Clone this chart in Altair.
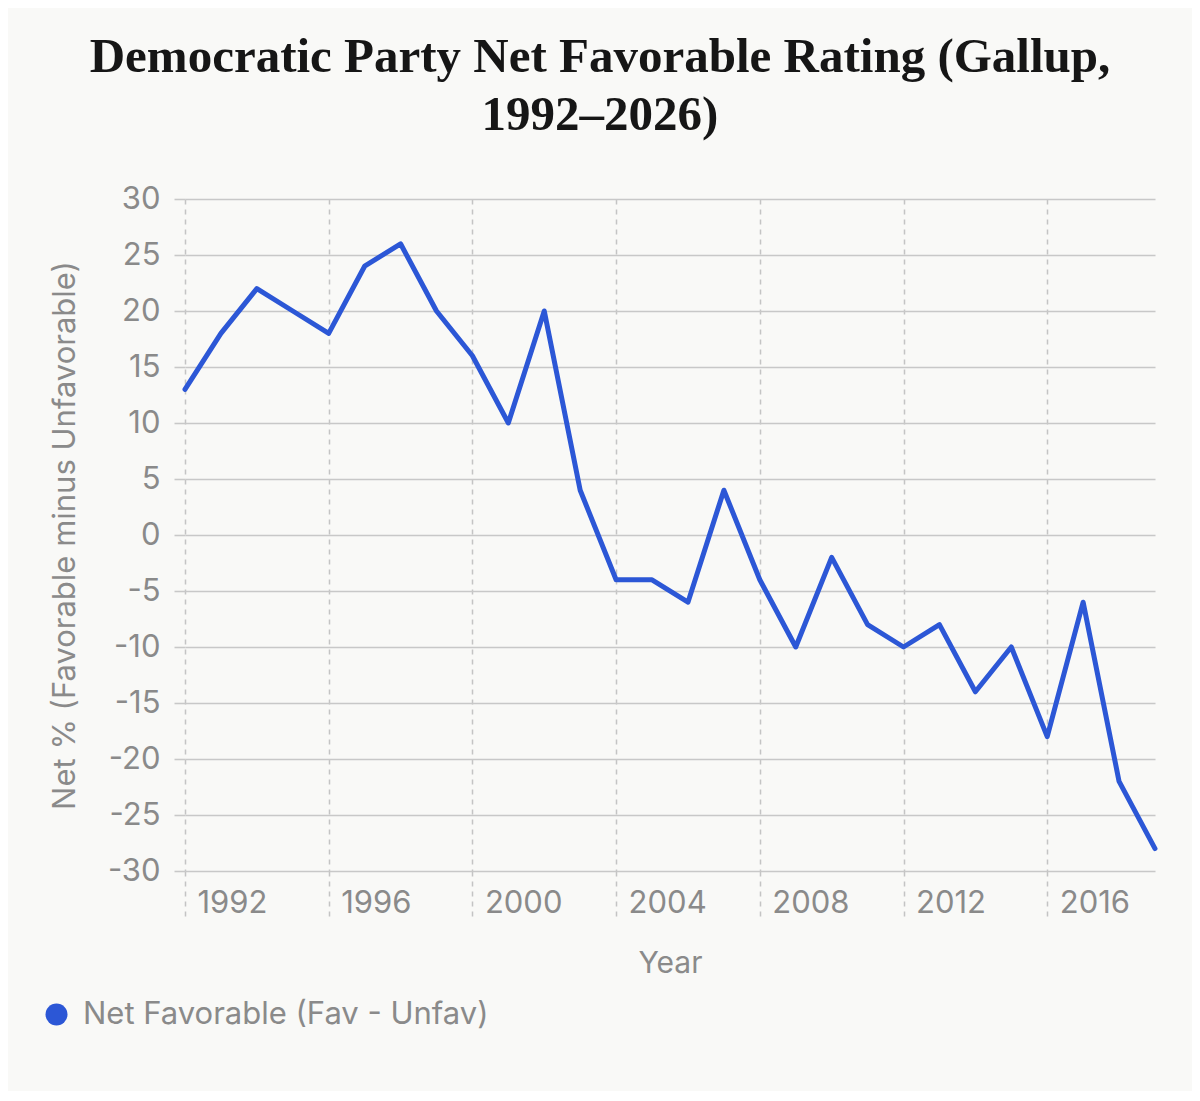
import altair as alt
import pandas as pd

years = list(range(1992, 2020))
net_favorable = [13, 18, 22, 20, 18, 24, 26, 20, 16, 10, 20, 4, -4, -4, -6, 4,
                 -4, -10, -2, -8, -10, -8, -14, -10, -18, -6, -22, -28]
series_name = "Net Favorable (Fav - Unfav)"
x_ticks = [1992, 1996, 2000, 2004, 2008, 2012, 2016]
y_ticks = [-30, -25, -20, -15, -10, -5, 0, 5, 10, 15, 20, 25, 30]

df = pd.DataFrame({"Year": years, "Net": net_favorable, "Series": series_name})

SANS = "Inter"
GRAY = "#8a8a8a"
BLUE = "#2c57d6"

chart = alt.Chart(df).mark_line(
    strokeWidth=5, strokeCap="round", strokeJoin="round"
).encode(
    x=alt.X(
        "Year:Q",
        scale=alt.Scale(domain=[1992, 2019], nice=False, zero=False),
        axis=alt.Axis(
            values=x_ticks, format="d", title="Year",
            grid=True, gridColor="#c4c4c4", gridDash=[5, 5], gridWidth=1.5,
            ticks=True, tickColor="#c4c4c4", tickDash=[5, 5], tickWidth=1.5, tickSize=48,
            domain=False,
            labelFont=SANS, labelFontSize=31, labelColor=GRAY,
            labelAlign="left", labelOffset=12, labelBaseline="alphabetic",
            labelPadding=-7, labelFlush=False,
            titleFont=SANS, titleFontSize=30, titleFontWeight="normal", titleColor=GRAY,
            titleX=485, titleY=92, titleBaseline="middle", titleAlign="center",
        ),
    ),
    y=alt.Y(
        "Net:Q",
        scale=alt.Scale(domain=[-30, 30], nice=False),
        axis=alt.Axis(
            values=y_ticks, title="Net % (Favorable minus Unfavorable)",
            labelExpr="'' + datum.value",
            grid=True, gridColor="#c8c8c8", gridWidth=1.6,
            ticks=True, tickColor="#c8c8c8", tickWidth=1.6, tickSize=11,
            domain=False,
            labelFont=SANS, labelFontSize=31, labelColor=GRAY, labelPadding=14,
            titleFont=SANS, titleFontSize=31, titleFontWeight="normal", titleColor=GRAY,
            titleX=-120, titleY=336, titleBaseline="middle", titleAlign="center",
            titleAngle=270,
        ),
    ),
    color=alt.Color(
        "Series:N",
        scale=alt.Scale(range=[BLUE]),
        legend=alt.Legend(
            title=None, orient="none", legendX=-144, legendY=800,
            symbolType="circle", symbolSize=484, symbolFillColor=BLUE,
            symbolStrokeWidth=0, symbolOpacity=1,
            labelFont=SANS, labelFontSize=31, labelColor=GRAY, labelOffset=11,
            labelLimit=600,
        ),
    ),
).properties(
    width=970,
    height=672,
    autosize=alt.AutoSizeParams(type="none"),
    padding={"left": 177, "top": 191, "right": 37, "bottom": 220},
    background="#f9f9f7",
    title=alt.TitleParams(
        text=["Democratic Party Net Favorable Rating (Gallup,", "1992–2026)"],
        font="Liberation Serif", fontSize=49, fontWeight="bold", color="#161616",
        anchor="middle", frame="group", dx=-70, offset=43, lineHeight=58,
    ),
).configure_view(stroke=None)

chart.save("out.html", embed_options={"renderer": "svg", "actions": False})
